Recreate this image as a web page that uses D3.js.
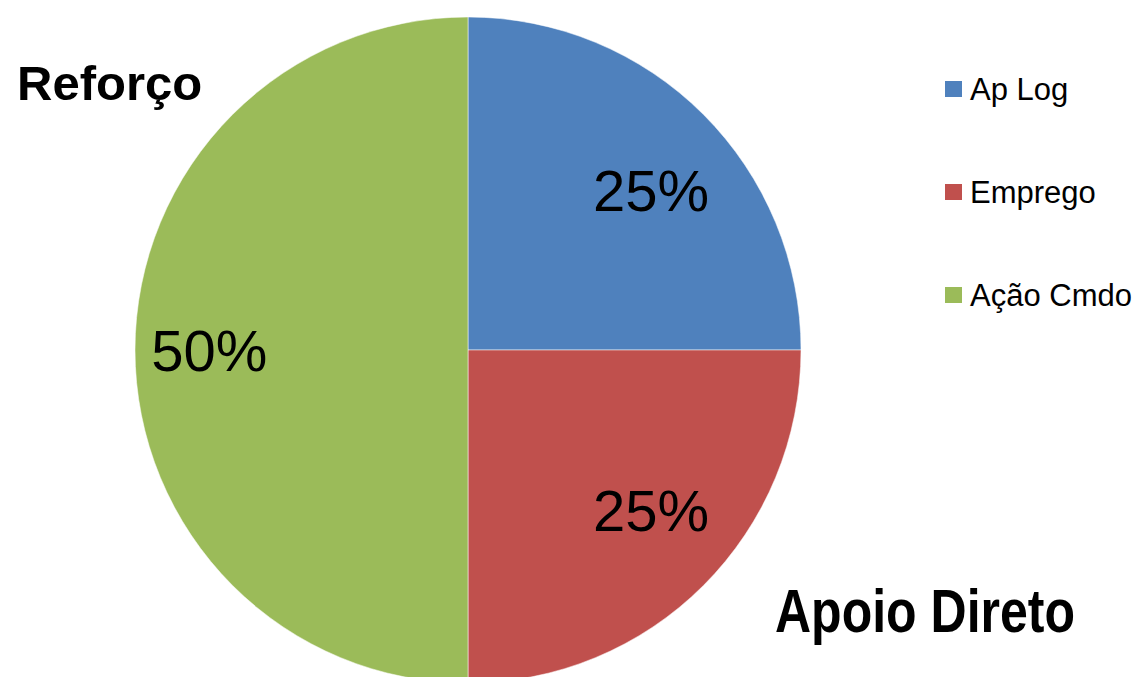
<!DOCTYPE html>
<html>
<head>
<meta charset="utf-8">
<script src="https://cdn.jsdelivr.net/npm/d3@7/dist/d3.min.js"></script>
<style>
  html, body { margin: 0; padding: 0; background: #fff; }
  svg { display: block; font-family: "Liberation Sans", Arial, sans-serif; }
</style>
</head>
<body>
<svg id="chart" width="1139" height="677"></svg>
<script>
// Share of effort by category
const categories = ["Ap Log", "Emprego", "Ação Cmdo"];
const values = [25, 25, 50];
const colors = ["#4F81BD", "#C0504D", "#9BBB59"];
const percentLabels = ["25%", "25%", "50%"];

const svg = d3.select("#chart");
const cx = 468, cy = 350, radius = 333;

const color = d3.scaleOrdinal().domain(categories).range(colors);

const pie = d3.pie().sort(null).value(d => d.value);
const data = categories.map((c, i) => ({ name: c, value: values[i], label: percentLabels[i] }));
const arcs = pie(data);

const arc = d3.arc().innerRadius(0).outerRadius(radius);

// Percent labels sit on an ellipse inside the pie, at each slice's mid-angle
const labelRx = radius * 0.777, labelRy = radius * 0.68;
const labelPos = d => {
  const a = (d.startAngle + d.endAngle) / 2;
  return [labelRx * Math.sin(a), -labelRy * Math.cos(a)];
};

const g = svg.append("g").attr("transform", `translate(${cx},${cy})`);

g.selectAll("path.slice")
  .data(arcs)
  .join("path")
  .attr("class", "slice")
  .attr("d", arc)
  .attr("fill", d => color(d.data.name))
  .attr("stroke", "rgba(255,255,255,0.5)")
  .attr("stroke-width", 1);

g.selectAll("text.pct")
  .data(arcs)
  .join("text")
  .attr("class", "pct")
  .attr("transform", d => `translate(${labelPos(d)})`)
  .attr("text-anchor", "middle")
  .attr("dy", "0.36em")
  .attr("font-size", 58)
  .attr("fill", "#000")
  .text(d => d.data.label);

// Legend
const legend = svg.append("g").attr("transform", "translate(945,81)");
const item = legend.selectAll("g.item")
  .data(categories)
  .join("g")
  .attr("class", "item")
  .attr("transform", (d, i) => `translate(0,${i * 103})`);
item.append("rect")
  .attr("width", 17).attr("height", 16)
  .attr("fill", d => color(d));
item.append("text")
  .attr("x", 25).attr("y", 19)
  .attr("font-size", 31)
  .attr("fill", "#000")
  .text(d => d);

// Callout labels
svg.append("text")
  .attr("x", 17).attr("y", 100)
  .attr("font-size", 49)
  .attr("font-weight", "bold")
  .attr("fill", "#000")
  .text("Reforço");

svg.append("text")
  .attr("transform", "translate(775,632) scale(0.82,1)")
  .attr("font-size", 61)
  .attr("font-weight", "bold")
  .attr("fill", "#000")
  .text("Apoio Direto");
</script>
</body>
</html>
